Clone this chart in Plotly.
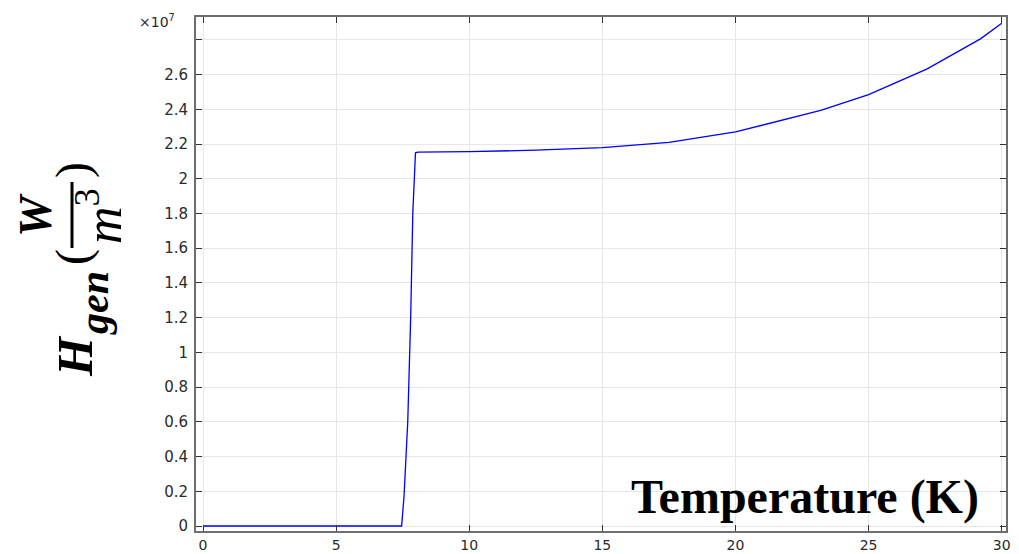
import plotly.graph_objects as go

# Heat generation vs. temperature (values in units of 1e7 W/m^3)
temperature_k = [0, 7.46, 7.55, 7.69, 7.80, 7.88, 7.98, 8.07, 10, 12.5, 15,
                 17.5, 20, 21, 23.2, 25, 27.2, 29.2, 30]
hgen_1e7 = [0, 0, 0.17, 0.6, 1.2, 1.8, 2.15, 2.154, 2.156, 2.165, 2.18,
            2.21, 2.27, 2.31, 2.394, 2.485, 2.633, 2.806, 2.896]

x_ticks = [0, 5, 10, 15, 20, 25, 30]
y_ticks = [0, 0.2, 0.4, 0.6, 0.8, 1, 1.2, 1.4, 1.6, 1.8, 2, 2.2, 2.4, 2.6, 2.8]
y_tick_text = ["0", "0.2", "0.4", "0.6", "0.8", "1", "1.2", "1.4", "1.6",
               "1.8", "2", "2.2", "2.4", "2.6", ""]

W, H = 1019, 554
L, R, T, B = 196, 1006, 17, 531


def px(x):
    return (x - L) / (R - L)


def py(y):
    return (B - y) / (B - T)


fig = go.Figure()
fig.add_trace(go.Scatter(
    x=temperature_k, y=hgen_1e7, mode="lines",
    line=dict(color="#0000ff", width=1.3),
    hoverinfo="x+y", showlegend=False,
))

axis_common = dict(
    showline=True, linecolor="#6e6e6e", linewidth=2, mirror="ticks",
    ticks="inside", ticklen=6, tickcolor="#333333", tickwidth=1,
    showgrid=True, gridcolor="#e6e6e6", gridwidth=1, zeroline=False,
    automargin=False,
)

fig.update_xaxes(range=[-0.263, 30.16], tickvals=x_ticks,
                 ticklabelstandoff=0,
                 tickfont=dict(family="DejaVu Sans", size=14, color="#2a2a2a"),
                 **axis_common)
fig.update_yaxes(range=[-0.0288, 2.932], tickvals=y_ticks,
                 ticktext=y_tick_text, ticklabelstandoff=3,
                 tickfont=dict(family="DejaVu Sans", size=15, color="#2a2a2a"),
                 **axis_common)

serif = "Liberation Serif"
ann = []
# exponent marker
ann.append(dict(text="×10<sup>7</sup>", x=px(137), y=py(21), xanchor="left",
                yanchor="middle", font=dict(family="DejaVu Sans", size=14,
                                            color="#2a2a2a")))
# x-axis title drawn inside the plot
ann.append(dict(text="<b>Temperature (K)</b>", x=px(805), y=py(497),
                xanchor="center", yanchor="middle",
                font=dict(family=serif, size=48, color="black")))
# y-axis title built from pieces: H_gen ( W / m^3 )
ann.append(dict(text="<b><i>H</i></b>", x=px(75), y=py(356), textangle=-90,
                font=dict(family=serif, size=50, color="black")))
ann.append(dict(text="<b><i>gen</i></b>", x=px(94), y=py(303), textangle=-90,
                font=dict(family=serif, size=42, color="black")))
ann.append(dict(text="(", x=px(73), y=py(257), textangle=-90,
                font=dict(family=serif, size=48, color="black")))
ann.append(dict(text="<b><i>W</i></b>", x=px(36), y=py(215), textangle=-90,
                font=dict(family=serif, size=46, color="black")))
ann.append(dict(text="<i>m</i><sup>3</sup>", x=px(100), y=py(216),
                textangle=-90,
                font=dict(family=serif, size=52, color="black")))
ann.append(dict(text=")", x=px(73), y=py(170), textangle=-90,
                font=dict(family=serif, size=48, color="black")))
for a in ann:
    a.setdefault("xanchor", "center")
    a.setdefault("yanchor", "middle")
    a.update(xref="paper", yref="paper", showarrow=False)

fig.update_layout(
    width=W, height=H,
    margin=dict(l=L, r=W - R, t=T, b=H - B),
    paper_bgcolor="white", plot_bgcolor="white",
    annotations=ann,
    shapes=[dict(type="line", xref="paper", yref="paper",
                 x0=px(72), x1=px(72), y0=py(182), y1=py(248),
                 line=dict(color="black", width=3))],
)

fig.write_html("out.html")
